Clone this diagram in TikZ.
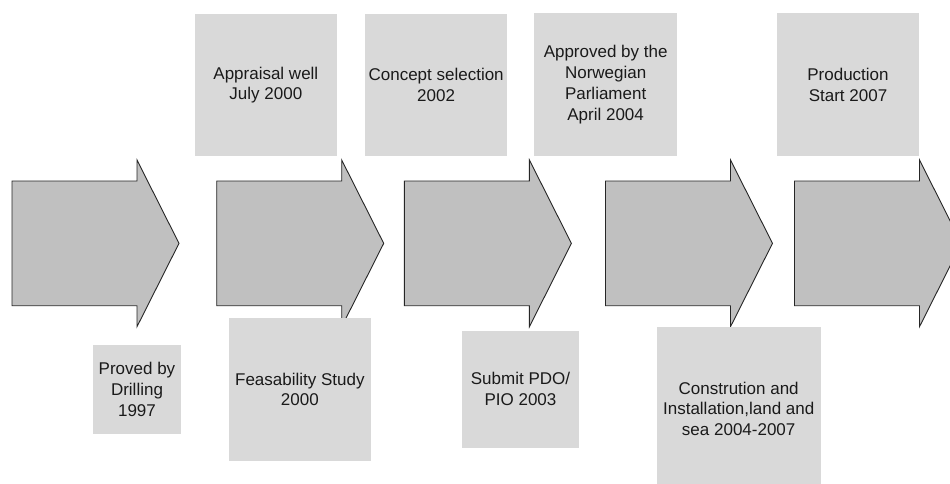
\documentclass[tikz,border=0pt]{standalone}
\usepackage{fontspec}
\setmainfont{Liberation Sans}
\definecolor{arrowfill}{HTML}{C0C0C0}
\definecolor{notefill}{HTML}{D9D9D9}
\definecolor{ink}{HTML}{1A1A1A}
\begin{document}
\begin{tikzpicture}[x=1pt,y=-1pt,
  notebox/.style={rectangle, fill=notefill, draw=none, inner sep=0pt,
    align=center, text=ink, font=\fontsize{17}{20.7}\selectfont},
  phase/.pic={
    \draw[fill=arrowfill, draw=black!85, line width=0.9pt, line join=miter]
      (0,-62.35) -- (125,-62.35) -- (125,-83.35) -- (167,0)
      -- (125,83.35) -- (125,62.35) -- (0,62.35) -- cycle;
  }]
  \useasboundingbox (0,0) rectangle (950,484);
  \clip (0,0) rectangle (950,484);

  % process arrows, left to right
  \pic (p1) at (12,243.35) {phase};
  \pic (p2) at (216.7,243.35) {phase};
  \pic (p3) at (404.4,243.35) {phase};
  \pic (p4) at (605.5,243.35) {phase};
  \pic (p5) at (794.5,243.35) {phase};

  % milestones above the arrows
  \node[notebox, minimum width=142.3pt, minimum height=142pt] (appraisal)
    at (265.85,85) {Appraisal well\\July 2000};
  \node[notebox, minimum width=142.3pt, minimum height=142pt] (concept)
    at (436.15,85) {Concept selection\\2002};
  \node[notebox, minimum width=142.7pt, minimum height=142.7pt] (approved)
    at (605.65,84.65) {Approved by the\\Norwegian\\Parliament\\April 2004};
  \node[notebox, minimum width=142.6pt, minimum height=142.7pt] (production)
    at (848,84.65) {Production\\Start 2007};

  % milestones below the arrows
  \node[notebox, minimum width=88.6pt, minimum height=88.7pt] (proved)
    at (137,389.35) {Proved by\\Drilling\\1997};
  \node[notebox, minimum width=142.3pt, minimum height=142.4pt] (feasibility)
    at (299.85,389.5) {Feasability Study\\2000};
  \node[notebox, minimum width=117pt, minimum height=117pt] (submit)
    at (520.5,389.2) {Submit PDO/\\PIO 2003};
  \node[notebox, minimum width=164pt, minimum height=162.7pt] (construction)
    at (738.7,408.65) {Constrution and\\Installation,land and\\sea 2004-2007};
\end{tikzpicture}
\end{document}
